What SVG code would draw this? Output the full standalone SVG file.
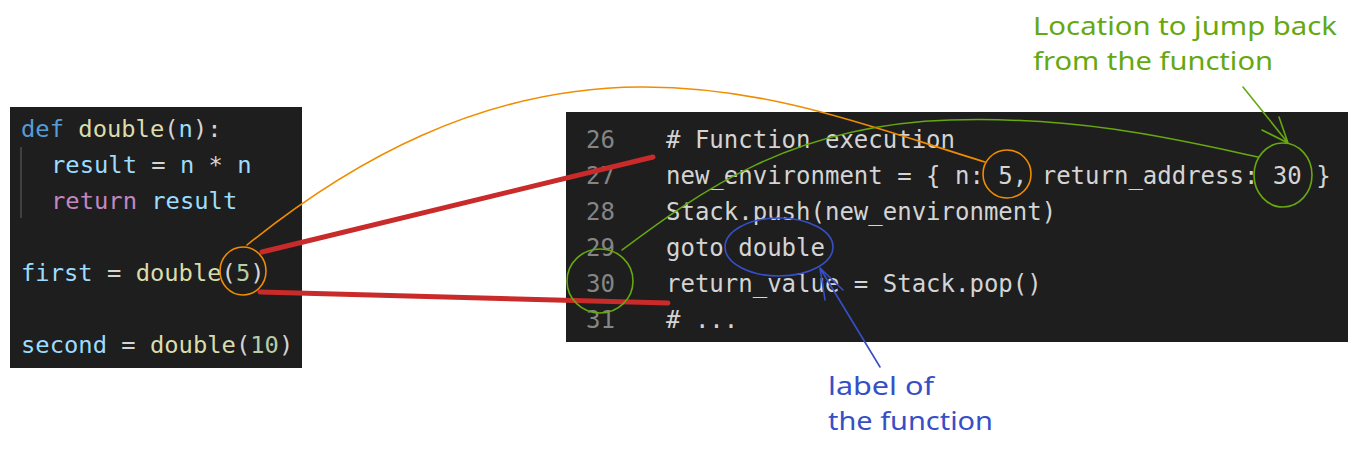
<svg xmlns="http://www.w3.org/2000/svg" width="1358" height="450" viewBox="0 0 1358 450">
<style>
.code{font-family:"DejaVu Sans Mono","Liberation Mono",monospace;white-space:pre}
.l{font-size:23.8px}
.r{font-size:24px;fill:#d4d4d4}
.ln{fill:#858585}
.kw{fill:#569cd6}.fn{fill:#dcdcaa}.var{fill:#9cdcfe}.op{fill:#d4d4d4}.ret{fill:#c586c0}.num{fill:#b5cea8}
.hand{font-family:"Noto Sans","DejaVu Sans",sans-serif;font-size:26px}
.sk{fill:none;stroke-linecap:round;stroke-linejoin:round}
</style>
<rect width="1358" height="450" fill="#ffffff"/>
<g id="code-left">
<rect x="10" y="107" width="292" height="261" fill="#1e1e1e"/>
<line x1="21" y1="147" x2="21" y2="218" stroke="#404040" stroke-width="2"/>
<text class="code l" x="21" y="137"><tspan class="kw">def</tspan><tspan class="op"> </tspan><tspan class="fn">double</tspan><tspan class="op">(</tspan><tspan class="var">n</tspan><tspan class="op">):</tspan></text>
<text class="code l" x="51" y="173"><tspan class="var">result</tspan><tspan class="op"> = </tspan><tspan class="var">n</tspan><tspan class="op"> * </tspan><tspan class="var">n</tspan></text>
<text class="code l" x="51" y="209"><tspan class="ret">return</tspan><tspan class="op"> </tspan><tspan class="var">result</tspan></text>
<text class="code l" x="21" y="281"><tspan class="var">first</tspan><tspan class="op"> = </tspan><tspan class="fn">double</tspan><tspan class="op">(</tspan><tspan class="num">5</tspan><tspan class="op">)</tspan></text>
<text class="code l" x="21" y="353"><tspan class="var">second</tspan><tspan class="op"> = </tspan><tspan class="fn">double</tspan><tspan class="op">(</tspan><tspan class="num">10</tspan><tspan class="op">)</tspan></text>
</g>
<g id="code-right">
<rect x="566" y="112" width="782" height="230" fill="#1e1e1e"/>
<text class="code r ln" x="586" y="148">26</text>
<text class="code r ln" x="586" y="184">27</text>
<text class="code r ln" x="586" y="220">28</text>
<text class="code r ln" x="586" y="256">29</text>
<text class="code r ln" x="586" y="292">30</text>
<text class="code r ln" x="586" y="328">31</text>
<text class="code r" x="666" y="148"># Function execution</text>
<text class="code r" x="666" y="184">new_environment = { n: 5, return_address: 30 }</text>
<text class="code r" x="666" y="220">Stack.push(new_environment)</text>
<text class="code r" x="666" y="256">goto double</text>
<text class="code r" x="666" y="292">return_value = Stack.pop()</text>
<text class="code r" x="666" y="328"># ...</text>
</g>
<g id="connectors">
<path class="sk" d="M262,252 L653,157" stroke="#c92a2a" stroke-width="5"/>
<path class="sk" d="M260,292 L668,303" stroke="#c92a2a" stroke-width="5"/>
<path class="sk" d="M247,245 C350,162 480,88 640,87 C770,86 880,130 985,162" stroke="#f08c00" stroke-width="1.6"/>
<path class="sk" d="M622,250 C700,192 790,125 950,120 C1080,116 1180,140 1258,157" stroke="#66a80f" stroke-width="1.5"/>
<path class="sk" d="M1243,87 L1288,143 M1262,130 L1288,143 L1279,117" stroke="#66a80f" stroke-width="1.6"/>
<path class="sk" d="M880,367 L820,268 M825,300 L820,268 L843,290" stroke="#364fc7" stroke-width="1.6"/>
</g>
<g id="mark-arg">
<ellipse cx="243" cy="271" rx="23" ry="24" class="sk" stroke="#f08c00" stroke-width="1.6"/>
</g>
<g id="mark-n5">
<ellipse cx="1007" cy="174" rx="24" ry="24" class="sk" stroke="#f08c00" stroke-width="1.6"/>
</g>
<g id="mark-ret30">
<ellipse cx="1283" cy="175" rx="29" ry="32" class="sk" stroke="#66a80f" stroke-width="1.6"/>
</g>
<g id="mark-line30">
<ellipse cx="600" cy="281" rx="33" ry="32" class="sk" stroke="#66a80f" stroke-width="1.6"/>
</g>
<g id="mark-double">
<ellipse cx="779" cy="247" rx="54" ry="29" class="sk" stroke="#364fc7" stroke-width="1.6"/>
</g>
<g id="note-location">
<text class="hand" fill="#66a80f" x="1033" y="35" textLength="304" lengthAdjust="spacingAndGlyphs">Location to jump back</text>
<text class="hand" fill="#66a80f" x="1033" y="70" textLength="240" lengthAdjust="spacingAndGlyphs">from the function</text>
</g>
<g id="note-label">
<text class="hand" fill="#364fc7" x="828" y="395" textLength="106" lengthAdjust="spacingAndGlyphs">label of</text>
<text class="hand" fill="#364fc7" x="828" y="430" textLength="165" lengthAdjust="spacingAndGlyphs">the function</text>
</g>
</svg>
